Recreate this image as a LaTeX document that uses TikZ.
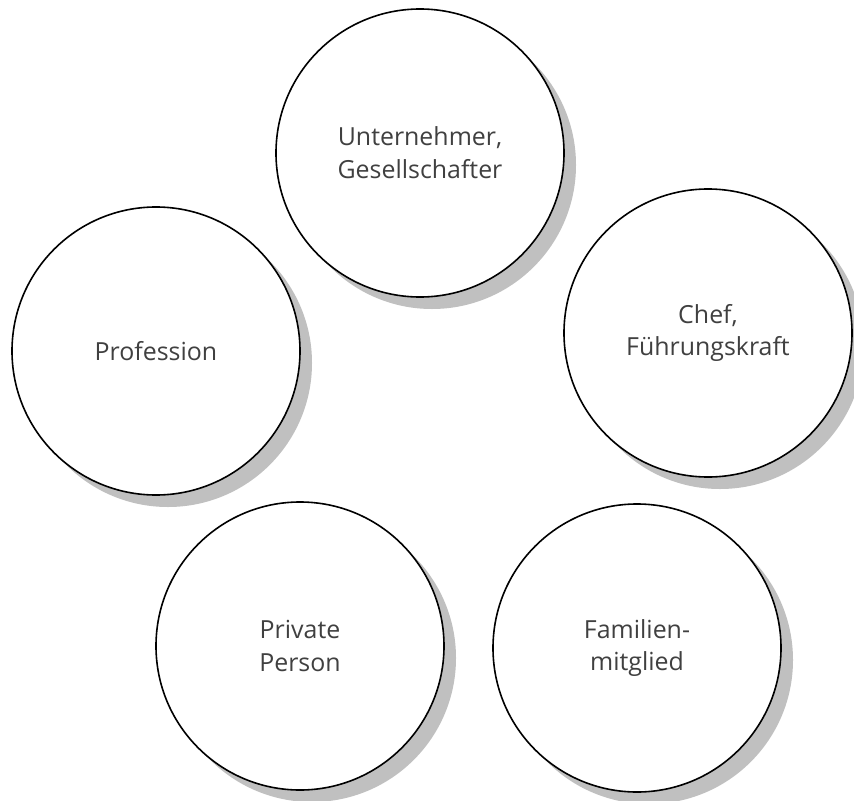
\documentclass[tikz,border=0pt]{standalone}
\usepackage{fontspec}
\setmainfont{Open Sans}
\usetikzlibrary{shadows}
\definecolor{labeltext}{HTML}{404040}
\definecolor{shadowgray}{HTML}{C0C0C0}
\begin{document}
\begin{tikzpicture}[x=1bp,y=-1bp,
  role/.style={circle, draw=black, line width=1.6bp, fill=white,
    minimum size=288bp, inner sep=0pt, align=center,
    text=labeltext, font=\fontsize{25}{33}\selectfont,
    drop shadow={shadow xshift=12bp, shadow yshift=-12bp,
      fill=shadowgray, opacity=1}}]
  \useasboundingbox (0,0) rectangle (854,801);
  \node[role] (owner)   at (420,153) {Unternehmer,\\Gesellschafter};
  \node[role] (prof)    at (156,351) {Profession};
  \node[role] (chief)   at (708,333) {Chef,\\Führungskraft};
  \node[role] (private) at (300,646) {Private\\Person};
  \node[role] (family)  at (637,648) {Familien-\\mitglied};
\end{tikzpicture}
\end{document}
